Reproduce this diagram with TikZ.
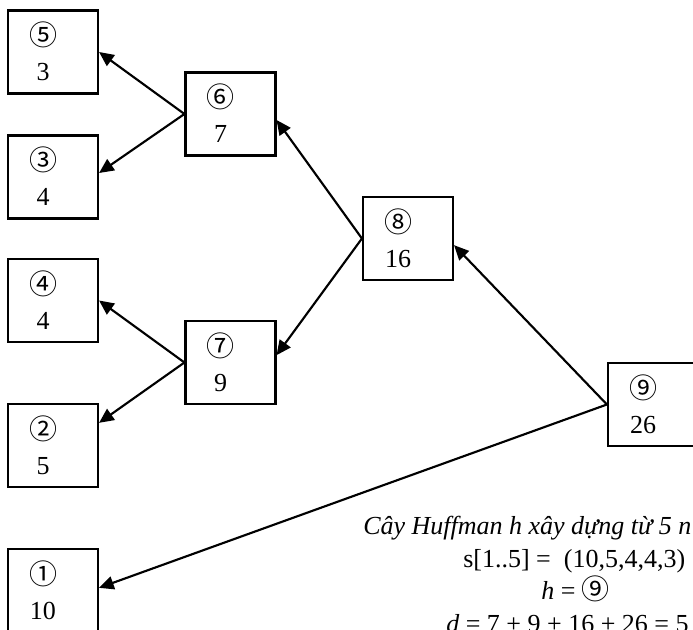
\documentclass[tikz,border=0pt]{standalone}
\usepackage{fontspec}
\setmainfont{Liberation Serif}
\newfontfamily\circfont{Noto Sans CJK JP}
\usetikzlibrary{arrows.meta}

% weight box text: circled number over its weight
\newcommand{\wt}[2]{\begin{tabular}{@{}c@{}}\rule{0pt}{25pt}{\circfont\fontsize{21pt}{26pt}\selectfont #1}\\#2\end{tabular}\kern15pt}

\begin{document}
\begin{tikzpicture}[x=0.75pt,y=-0.75pt]
        \tikzstyle{every node}=[font=\fontsize{19.5pt}{26.25pt}\selectfont]
        \tikzstyle{nodebox}=[draw, line width=1.6pt, minimum width=67.5pt, minimum height=62.25pt, inner sep=0pt]
        \tikzstyle{conn}=[line width=1.6pt, -{Triangle[length=11pt,width=10pt]}]
        \useasboundingbox (0,0) rectangle (693,630);
        \clip (0,0) rectangle (693,630);
        % leaves
        \node[nodebox] (n5) at (53,52) {\wt{⑤}{3}};
        \node[nodebox] (n3) at (53,177) {\wt{③}{4}};
        \node[nodebox] (n4) at (53,300.5) {\wt{④}{4}};
        \node[nodebox] (n2) at (53,445.5) {\wt{②}{5}};
        \node[nodebox] (n1) at (53,590.5) {\wt{①}{10}};
        % inner nodes
        \node[nodebox] (n6) at (230.5,114) {\wt{⑥}{7}};
        \node[nodebox] (n7) at (230.5,362.5) {\wt{⑦}{9}};
        \node[nodebox] (n8) at (408,238.5) {\wt{⑧}{16}};
        \node[nodebox] (n9) at (653,404.5) {\wt{⑨}{26}};
        % links
        \draw[conn] (n6.west) -- (n5.east);
        \draw[conn] (n6.west) -- ([yshift=3pt]n3.east);
        \draw[conn] (n7.west) -- (n4.east);
        \draw[conn] (n7.west) -- ([yshift=17pt]n2.east);
        \draw[conn] (n8.west) -- ([yshift=-4.5pt]n6.east);
        \draw[conn] (n8.west) -- ([yshift=5.5pt]n7.east);
        \draw[conn] (n9.west) -- ([yshift=-5pt]n8.east);
        \draw[conn] (n9.west) -- ([yshift=2pt]n1.east);
        % caption
        \node[anchor=base west, inner sep=0pt] (cap1) at (363,535) {\itshape Cây Huffman h xây dựng từ 5 n};
        \node[anchor=base west, inner sep=0pt] (cap2) at (463,568) {s[1..5] =\ \ (10,5,4,4,3)};
        \node[anchor=base west, inner sep=0pt] (cap3) at (541,600) {\textit{h} = {\circfont\fontsize{21pt}{26pt}\selectfont ⑨}};
        \node[anchor=base west, inner sep=0pt] (cap4) at (446,633) {\textit{d} = 7 + 9 + 16 + 26 = 5};
    \end{tikzpicture}
\end{document}
